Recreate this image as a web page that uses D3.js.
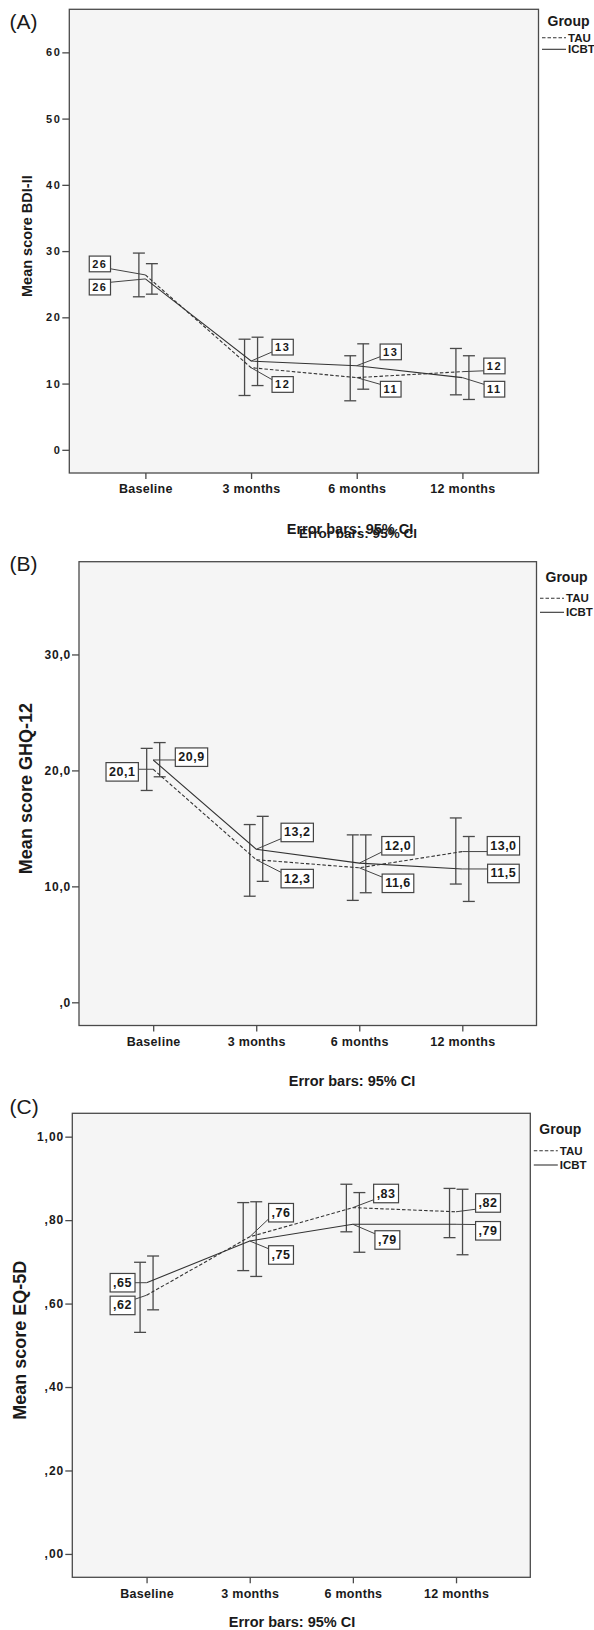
<!DOCTYPE html>
<html>
<head>
<meta charset="utf-8">
<script src="https://cdn.jsdelivr.net/npm/d3@7"></script>
<style>
  body { margin: 0; background: #fff; }
  text { font-family: "Liberation Sans", Arial, sans-serif; fill: #1a1a1a; }
</style>
</head>
<body>
<div id="chart"></div>
<script>
// categories and groups
var categories = ["Baseline", "3 months", "6 months", "12 months"];
var groups = ["TAU", "ICBT"];

// (A) BDI-II
var bdiTau = [26.4, 12.4, 10.9, 11.8];
var bdiTauLow = [23.1, 8.2, 7.4, 8.3];
var bdiTauHigh = [29.7, 16.7, 14.2, 15.3];
var bdiIcbt = [25.8, 13.4, 12.7, 10.9];
var bdiIcbtLow = [23.5, 9.7, 9.15, 7.6];
var bdiIcbtHigh = [28.1, 17.0, 16.0, 14.2];
var bdiTicks = [0, 10, 20, 30, 40, 50, 60];

// (B) GHQ-12
var ghqTau = [20.1, 12.3, 11.6, 13.0];
var ghqTauLow = [18.27, 9.15, 8.79, 10.2];
var ghqTauHigh = [21.9, 15.33, 14.44, 15.9];
var ghqIcbt = [20.9, 13.2, 12.0, 11.5];
var ghqIcbtLow = [19.45, 10.43, 9.45, 8.7];
var ghqIcbtHigh = [22.4, 16.04, 14.44, 14.3];
var ghqTicks = [0, 10, 20, 30];

// (C) EQ-5D
var eqTau = [0.62, 0.76, 0.83, 0.82];
var eqTauLow = [0.531, 0.679, 0.772, 0.758];
var eqTauHigh = [0.699, 0.842, 0.886, 0.876];
var eqIcbt = [0.65, 0.75, 0.79, 0.79];
var eqIcbtLow = [0.585, 0.665, 0.723, 0.717];
var eqIcbtHigh = [0.714, 0.844, 0.866, 0.874];
var eqTicks = [0, 0.2, 0.4, 0.6, 0.8, 1.0];

// label box offsets from the point (box centre), pixels
var bdiTauOff = [[-45.5, -11], [31.6, 16.8], [34, 11.6], [32, -5.7]];
var bdiIcbtOff = [[-45.5, 8.2], [31.6, -13.9], [34, -13.8], [32, 11.6]];
var ghqTauOff = [[-31, 2.6], [41, 18.9], [38.7, 15.5], [41.1, -5.8]];
var ghqIcbtOff = [[38.3, -2.8], [41, -16.8], [38.7, -17.4], [41.1, 4.5]];
var eqTauOff = [[-24, 10.2], [31.3, -24.1], [33.2, -14.1], [32, -8.8]];
var eqIcbtOff = [[-24, 0], [31.3, 14], [34.5, 15.7], [32, 6.5]];

var svgWidth = 594;
var svgHeight = 1630;

var svg = d3.select("#chart")
  .append("svg")
  .attr("width", svgWidth)
  .attr("height", svgHeight);

var locale = d3.formatLocale({decimal: ",", thousands: ".", grouping: [3], currency: ["", ""]});
function commaFmt(spec) {
  var f = locale.format(spec);
  return function(v) { return f(v).replace(/^0(?=,)/, ""); };
}

var panels = [
  {
    tag: "(A)", tagY: 21, title: "Mean score BDI-II", titleSize: 14.5, titleX: 27,
    left: 69.3, right: 538.5, top: 9.3, bottom: 473,
    domain: [-3.5, 66.5], ticks: bdiTicks, fmt: commaFmt("d"),
    tickSize: 11, tickSpacing: 1.5, labelSize: 11, labelSpacing: 1.5, boxH: 15.7,
    tau: [bdiTau, bdiTauLow, bdiTauHigh, bdiTauOff],
    icbt: [bdiIcbt, bdiIcbtLow, bdiIcbtHigh, bdiIcbtOff],
    legend: [12, 28.5, 40], note: [{x: 350, y: 529, s: 14.5}, {x: 358, y: 533, s: 13.5}]
  },
  {
    tag: "(B)", tagY: 563.3, title: "Mean score GHQ-12", titleSize: 18, titleX: 25.8,
    left: 79, right: 536.5, top: 561.7, bottom: 1025.5,
    domain: [-2, 38], ticks: ghqTicks, fmt: commaFmt(".1f"),
    tickSize: 12, tickSpacing: 0.8, labelSize: 12.5, labelSpacing: 0.5, boxH: 18.5,
    tau: [ghqTau, ghqTauLow, ghqTauHigh, ghqTauOff],
    icbt: [ghqIcbt, ghqIcbtLow, ghqIcbtHigh, ghqIcbtOff],
    legend: [15.6, 36.6, 50.6], note: [{x: 352, y: 1081, s: 14.5}]
  },
  {
    tag: "(C)", tagY: 1106.3, title: "Mean score EQ-5D", titleSize: 18, titleX: 19.5,
    left: 72.3, right: 530.3, top: 1113.3, bottom: 1577.3,
    domain: [-0.056, 1.056], ticks: eqTicks, fmt: commaFmt(".2f"),
    tickSize: 12, tickSpacing: 1, labelSize: 12.5, labelSpacing: 0.5, boxH: 18.5,
    tau: [eqTau, eqTauLow, eqTauHigh, eqTauOff],
    icbt: [eqIcbt, eqIcbtLow, eqIcbtHigh, eqIcbtOff],
    legend: [16, 37.4, 51.7], note: [{x: 292, y: 1622.3, s: 14.5}]
  }
];

var dashes = {TAU: "3.5,2", ICBT: null};
var dodge = {TAU: -6.5, ICBT: 6.5};

panels.forEach(function(p) {
  var g = svg.append("g");

  var x = d3.scalePoint().domain(categories).range([p.left, p.right]).padding(0.72);
  var y = d3.scaleLinear().domain(p.domain).range([p.bottom, p.top]);

  // panel tag
  g.append("text")
    .attr("x", 9.5).attr("y", p.tagY)
    .attr("dominant-baseline", "central")
    .attr("font-size", "21px")
    .text(p.tag);

  // plot frame
  g.append("rect")
    .attr("x", p.left).attr("y", p.top)
    .attr("width", p.right - p.left).attr("height", p.bottom - p.top)
    .attr("fill", "#f5f5f5").attr("stroke", "#4a4a4a").attr("stroke-width", 1.3);

  // axes
  var yAxis = g.append("g")
    .attr("transform", `translate(${p.left},0)`)
    .call(d3.axisLeft(y).tickValues(p.ticks).tickSize(7).tickPadding(1).tickFormat(p.fmt));
  yAxis.select(".domain").remove();
  yAxis.selectAll("line").attr("stroke", "#4a4a4a").attr("stroke-width", 1.3);
  yAxis.selectAll("text")
    .attr("font-size", p.tickSize + "px").attr("font-weight", "bold")
    .attr("letter-spacing", p.tickSpacing + "px")
    .attr("font-family", "Liberation Sans, Arial, sans-serif").attr("fill", "#1a1a1a");

  var xAxis = g.append("g")
    .attr("transform", `translate(0,${p.bottom})`)
    .call(d3.axisBottom(x).tickSize(6).tickPadding(5.5));
  xAxis.select(".domain").remove();
  xAxis.selectAll("line").attr("stroke", "#4a4a4a").attr("stroke-width", 1.3);
  xAxis.selectAll("text")
    .attr("font-size", "12.5px").attr("font-weight", "bold")
    .attr("letter-spacing", "0.3px")
    .attr("font-family", "Liberation Sans, Arial, sans-serif").attr("fill", "#1a1a1a");

  // y title
  var cy = (p.top + p.bottom) / 2 - 5;
  g.append("text")
    .attr("transform", `translate(${p.titleX},${cy}) rotate(-90)`)
    .attr("text-anchor", "middle").attr("dominant-baseline", "central")
    .attr("font-size", p.titleSize + "px").attr("font-weight", "bold")
    .text(p.title);

  // note under chart
  p.note.forEach(function(n) {
    g.append("text")
      .attr("x", n.x).attr("y", n.y)
      .attr("text-anchor", "middle").attr("dominant-baseline", "central")
      .attr("font-size", n.s + "px").attr("font-weight", "bold")
      .text("Error bars: 95% CI");
  });

  var series = [
    {name: "TAU", vals: p.tau[0], low: p.tau[1], high: p.tau[2], off: p.tau[3]},
    {name: "ICBT", vals: p.icbt[0], low: p.icbt[1], high: p.icbt[2], off: p.icbt[3]}
  ];

  // error bars
  series.forEach(function(s) {
    var eb = g.append("g").attr("stroke", "#4a4a4a").attr("stroke-width", 1.3);
    categories.forEach(function(c, i) {
      var bx = x(c) + dodge[s.name];
      eb.append("line").attr("x1", bx).attr("x2", bx).attr("y1", y(s.low[i])).attr("y2", y(s.high[i]));
      eb.append("line").attr("x1", bx - 6).attr("x2", bx + 6).attr("y1", y(s.low[i])).attr("y2", y(s.low[i]));
      eb.append("line").attr("x1", bx - 6).attr("x2", bx + 6).attr("y1", y(s.high[i])).attr("y2", y(s.high[i]));
    });
  });

  // mean lines
  var line = d3.line().x(function(d, i) { return x(categories[i]); }).y(function(d) { return y(d); });
  series.forEach(function(s) {
    g.append("path")
      .datum(s.vals)
      .attr("d", line)
      .attr("fill", "none")
      .attr("stroke", "#333")
      .attr("stroke-width", 1.1)
      .attr("stroke-dasharray", dashes[s.name]);
  });

  // value labels with boxes
  series.forEach(function(s) {
    s.vals.forEach(function(v, i) {
      var px = x(categories[i]), py = y(v);
      var cx = px + s.off[i][0], cyy = py + s.off[i][1];
      var lg = g.append("g");
      var txt = lg.append("text")
        .attr("x", cx).attr("y", cyy)
        .attr("text-anchor", "middle").attr("dominant-baseline", "central")
        .attr("font-size", p.labelSize + "px").attr("font-weight", "bold")
        .attr("letter-spacing", p.labelSpacing + "px")
        .text(p.fmt(v));
      var w = txt.node().getComputedTextLength() + 6;
      var bl = cx - w / 2, br = cx + w / 2, bt = cyy - p.boxH / 2, bb = cyy + p.boxH / 2;
      var ex = s.off[i][0] > 0 ? bl : br;
      var ey = Math.max(bt + 3, Math.min(bb - 3, py));
      lg.insert("line", "text")
        .attr("x1", px).attr("y1", py).attr("x2", ex).attr("y2", ey)
        .attr("stroke", "#444").attr("stroke-width", 1);
      lg.insert("rect", "text")
        .attr("x", bl).attr("y", bt).attr("width", w).attr("height", p.boxH)
        .attr("fill", "#fff").attr("stroke", "#444").attr("stroke-width", 1.2);
    });
  });

  // legend
  var lx = p.right;
  g.append("text")
    .attr("x", lx + 9).attr("y", p.top + p.legend[0])
    .attr("dominant-baseline", "central")
    .attr("font-size", "14px").attr("font-weight", "bold")
    .text("Group");
  groups.forEach(function(name, k) {
    var ly = p.top + p.legend[k + 1];
    g.append("line")
      .attr("x1", lx + 3.5).attr("x2", lx + 27.5).attr("y1", ly).attr("y2", ly)
      .attr("stroke", "#333").attr("stroke-width", 1.1)
      .attr("stroke-dasharray", dashes[name]);
    g.append("text")
      .attr("x", lx + 29.5).attr("y", ly)
      .attr("dominant-baseline", "central")
      .attr("font-size", "11.5px").attr("font-weight", "bold")
      .text(name);
  });
});
</script>
</body>
</html>
